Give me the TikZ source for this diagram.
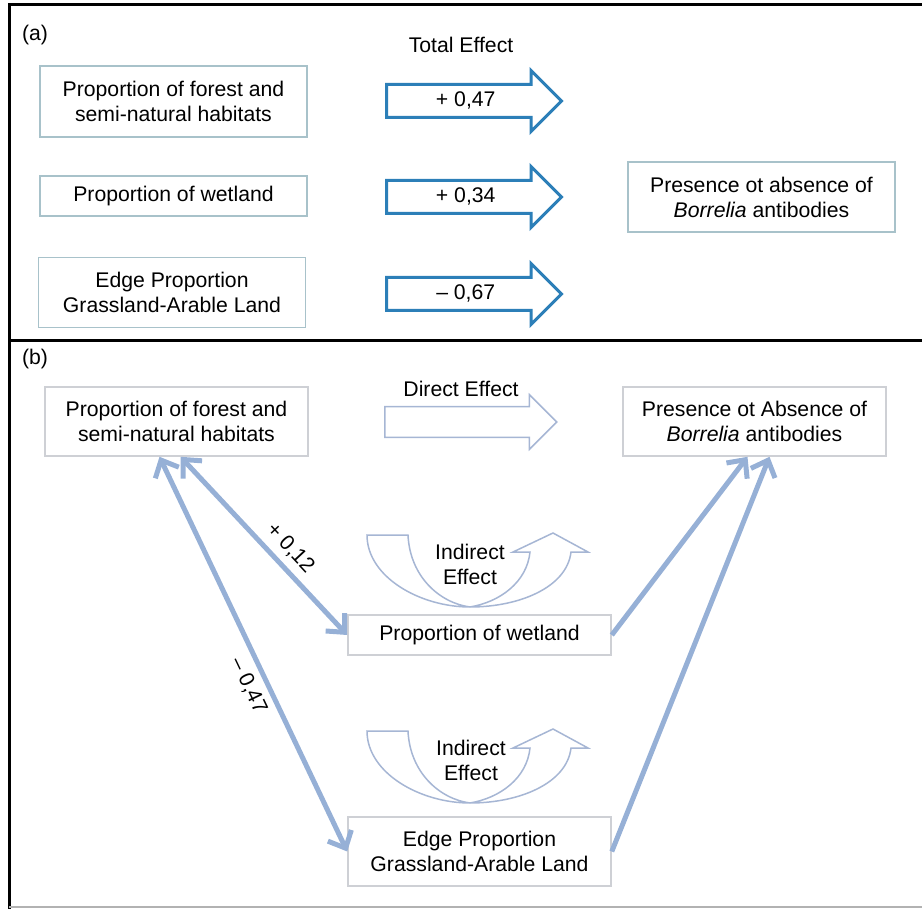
\documentclass[tikz,border=0pt]{standalone}
\usepackage{fontspec}
\setmainfont{Liberation Sans}
\usepackage{tikz}
\usetikzlibrary{shapes,arrows,arrows.meta,positioning,calc}
\definecolor{effectblue}{RGB}{44, 127, 184}
\definecolor{boxteal}{RGB}{168, 194, 202}
\definecolor{boxgrey}{RGB}{206, 208, 213}
\definecolor{pathblue}{RGB}{150, 176, 214}
\definecolor{outlineblue}{RGB}{166, 182, 212}

\begin{document}
\begin{tikzpicture}[x=0.5pt,y=-0.5pt,
    every node/.style={font=\fontsize{10.6}{12.5}\selectfont},
    abox/.style={draw=boxteal,line width=0.8pt,fill=white,align=center,minimum width=133.5pt},
    bbox/.style={draw=boxgrey,line width=0.8pt,fill=white,align=center,minimum width=131.5pt},
    totalarrow/.style={single arrow,draw=effectblue,line width=1.5pt,fill=white,anchor=tail,
        single arrow head extend=7pt,minimum height=87.5pt,
        text height=7.6pt,text depth=2.2pt,inner ysep=2.6pt,inner xsep=2pt},
    directarrow/.style={single arrow,draw=outlineblue,line width=0.75pt,fill=white,anchor=tail,
        single arrow head extend=6pt,minimum height=86pt,
        text height=7.6pt,text depth=2.2pt,inner ysep=2.4pt},
    link/.style={line width=2.5pt,pathblue,>={Straight Barb[length=7pt,width=13pt]}},
    frame/.style={line width=1.5pt,black},
    uturn/.pic={
        \draw[outlineblue,line width=0.75pt,fill=white] (-103,-72) -- (-62,-72)
            .. controls (-60,-30) and (-30,-4) .. (0,0)
            .. controls (30,-5) and (57,-25) .. (60,-55) -- (43,-55) -- (83,-74)
            -- (118,-55) -- (101,-55)
            .. controls (97,-20) and (50,0) .. (0,0)
            .. controls (-50,0) and (-103,-30) .. (-103,-72) -- cycle;
    }]
    \useasboundingbox (0,0) rectangle (922,909);
    \draw[frame] (9,909) -- (9,5) -- (922,5);
    \draw[frame] (9,341) -- (922,341);
    \draw[gray!60,line width=1pt] (9,907) -- (922,907);

    \node[anchor=west] (tagA) at (15,35) {(a)};
    \node (total) at (461,45) {Total Effect};
    \node[abox,minimum height=35.5pt] (a1) at (173.5,101.5) {Proportion of forest and\\semi-natural habitats};
    \node[abox,minimum height=20pt] (a2) at (173.5,196) {Proportion of wetland};
    \node[abox,minimum height=35pt] (a3) at (172,292.5) {Edge Proportion\\Grassland-Arable Land};
    \node[abox,minimum height=35pt] (aout) at (761.5,197) {Presence ot absence of\\\textit{Borrelia} antibodies};
    \node[totalarrow] (ta1) at (385,101) {+ 0,47};
    \node[totalarrow] (ta2) at (385,197) {+ 0,34};
    \node[totalarrow] (ta3) at (385,294) {-- 0,67};

    \node[anchor=west] (tagB) at (15,359) {(b)};
    \node[bbox,minimum height=34.5pt] (b1) at (176.5,421.5) {Proportion of forest and\\semi-natural habitats};
    \node[bbox,minimum height=34.5pt] (bout) at (754.5,421.5) {Presence ot Absence of\\\textit{Borrelia} antibodies};
    \node[bbox,minimum height=20pt] (b2) at (479.5,635) {Proportion of wetland};
    \node[bbox,minimum height=34.5pt] (b3) at (479.5,851.5) {Edge Proportion\\Grassland-Arable Land};
    \node[directarrow] (direct) at (384,422) {};
    \node (directlbl) at (461,389) {Direct Effect};

    \pic at (470,607) {uturn};
    \node[align=center] (ind1) at (470,564) {Indirect\\Effect};
    \pic at (470,803) {uturn};
    \node[align=center] (ind2) at (471,760) {Indirect\\Effect};

    \draw[link,<->] ($(b1.south)+(4,0)$) -- (b2.west) node[pos=0.58,sloped,above,black] {+ 0,12};
    \draw[link,<->] ($(b1.south)+(-17,0)$) -- (b3.west) node[pos=0.56,sloped,below,black] {-- 0,47};
    \draw[link,->] (b2.east) -- ($(bout.south)+(-7,0)$);
    \draw[link,->] (b3.east) -- ($(bout.south)+(15,0)$);
\end{tikzpicture}
\end{document}
